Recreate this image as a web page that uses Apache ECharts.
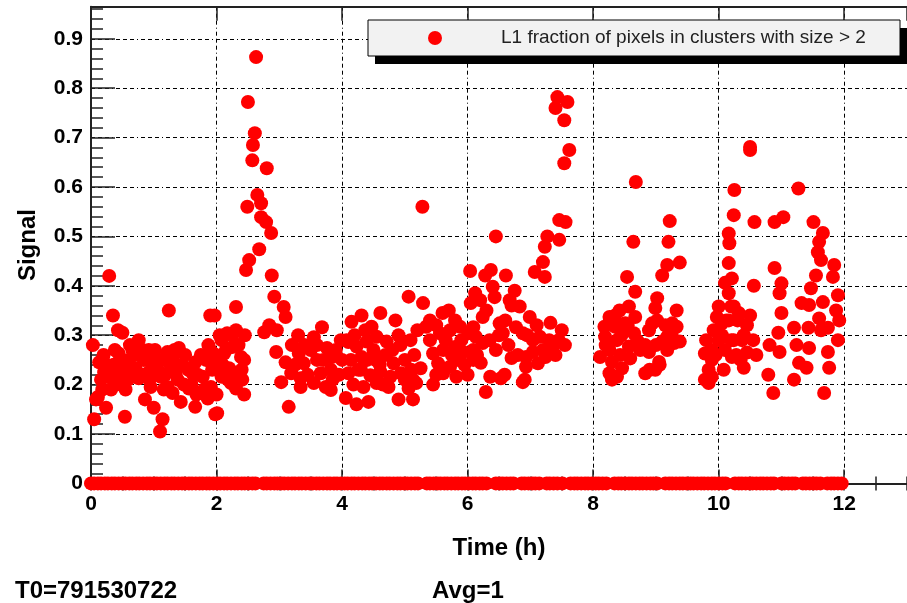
<!DOCTYPE html>
<html>
<head>
<meta charset="utf-8">
<script src="https://cdn.jsdelivr.net/npm/echarts@6/dist/echarts.min.js"></script>
<style>
  html, body { margin: 0; padding: 0; background: #fff; }
  #chart { width: 907px; height: 603px; }
</style>
</head>
<body>
<div id="chart"></div>
<script>
// L1 pixel-cluster signal versus time (hours since T0)
const seriesName = 'L1 fraction of pixels in clusters with size > 2';

// time (h) of each non-zero reading
const times = [
  0.03,0.13,0.16,0.08,0.05,0.24,0.11,0.21,0.29,0.32,0.35,0.29,0.43,0.50,0.44,0.36,0.43,0.27,0.51,0.55,
  0.54,0.76,0.66,0.76,0.60,0.71,0.84,0.92,0.98,0.67,0.76,0.90,0.95,0.86,1.00,0.59,0.98,
  0.20,0.25,0.38,0.45,0.48,0.60,0.62,0.70,0.80,0.82,0.88,0.93,0.18,0.40,
  1.14,1.10,1.24,1.06,1.14,1.22,1.30,1.40,1.46,1.35,1.22,1.30,1.43,1.11,1.48,1.16,
  1.02,1.08,1.18,1.26,1.33,1.38,1.50,1.55,1.60,1.70,1.75,1.80,1.93,1.90,1.68,
  1.66,1.66,1.98,1.90,1.56,1.78,1.83,1.87,1.95,1.74,1.86,1.91,2.01,1.62,
  2.01,1.97,2.31,2.44,2.08,2.17,2.31,2.25,2.12,2.39,2.01,2.20,2.08,2.23,2.41,2.44,2.31,2.00,2.12,2.33,
  2.05,2.15,2.25,2.35,2.40,2.28,2.18,2.10,2.45,
  2.63,2.50,2.61,2.58,2.57,2.80,2.65,2.71,2.49,2.71,2.79,2.87,2.68,2.52,2.47,2.88,
  2.92,3.07,3.10,2.84,2.96,2.76,2.95,3.03,3.15,
  3.68,3.20,3.31,3.10,3.19,3.34,3.39,3.50,3.55,3.60,3.66,3.55,3.76,3.84,3.82,3.74,3.82,3.98,4.00,4.06,4.10,3.34,
  3.25,3.40,3.45,3.60,3.70,3.90,3.95,3.30,3.85,
  4.15,4.31,4.61,4.47,4.85,5.06,5.29,5.28,4.37,
  4.07,4.23,4.39,4.55,4.71,4.93,5.09,4.14,4.31,4.53,4.69,4.82,5.00,4.10,4.26,4.45,4.61,4.77,4.94,5.13,5.25,
  4.18,4.34,4.55,4.74,5.06,5.18,4.23,4.42,4.90,5.13,5.45,
  4.20,4.30,4.50,4.60,4.80,4.90,5.00,5.15,5.20,4.65,4.40,5.10,
  6.00,5.60,5.34,6.04,5.40,5.56,5.72,5.88,6.01,5.45,5.61,5.80,5.93,5.53,5.72,5.85,6.09,5.61,5.82,6.05,6.12,5.40,
  5.50,5.65,5.75,5.90,5.95,5.70,5.50,5.80,
  6.45,7.20,7.07,7.23,6.37,6.28,6.61,6.75,6.40,6.13,7.32,6.29,6.59,6.88,6.70,6.21,
  6.20,6.43,6.24,6.09,6.51,6.67,6.83,6.99,6.56,6.77,6.88,7.04,7.15,7.20,7.04,6.93,7.35,7.24,6.24,6.09,
  6.36,6.53,6.93,7.12,6.91,6.13,7.45,7.50,7.55,
  6.30,6.35,6.45,6.50,6.60,6.65,6.80,6.95,7.10,7.30,7.40,6.70,6.15,
  7.43,7.59,7.40,7.54,7.62,7.54,7.46,7.56,7.27,7.46,7.23,
  8.18,8.11,8.68,9.22,8.64,9.20,9.38,9.18,9.10,8.54,8.67,9.02,9.33,8.99,8.90,9.06,8.30,
  8.26,8.42,8.57,8.67,8.35,8.51,8.65,8.19,8.38,8.57,8.26,8.43,8.59,8.30,8.46,8.26,8.38,
  8.94,9.02,8.89,9.26,9.33,9.18,9.10,9.29,9.38,8.83,8.89,9.18,9.05,8.83,8.99,
  8.20,8.45,8.55,8.70,8.75,9.15,9.25,9.00,8.35,
  10.25,10.24,10.16,10.17,10.16,10.10,10.00,9.84,9.89,
  9.78,9.89,9.84,10.00,10.05,9.97,10.16,10.24,10.10,10.24,10.21,10.08,9.89,9.78,10.16,10.21,
  9.80,9.95,10.05,10.12,10.30,9.92,10.28,
  10.50,10.50,11.27,10.57,10.89,11.03,11.51,11.66,11.60,11.58,11.63,11.84,11.82,10.89,
  11.55,10.56,11.47,10.97,11.00,11.90,11.32,11.44,11.66,10.20,10.32,10.50,11.00,11.87,11.92,11.60,
  11.20,11.43,11.63,11.74,10.95,11.90,10.81,10.97,11.24,11.44,11.74,10.20,10.37,10.45,11.28,11.40,10.40,
  11.76,10.79,11.20,10.87,11.68,10.40,10.45,10.55,10.60,10.35
];

// signal value of each non-zero reading, same order as times
const signal = [
  0.28,0.245,0.21,0.17,0.13,0.153,0.175,0.225,0.215,0.19,0.34,0.42,0.31,0.305,0.263,0.24,0.222,0.222,0.23,0.19,
  0.135,0.29,0.27,0.263,0.25,0.233,0.25,0.27,0.26,0.223,0.213,0.223,0.195,0.17,0.153,0.21,0.233,
  0.26,0.24,0.27,0.24,0.21,0.23,0.28,0.26,0.22,0.27,0.25,0.21,0.19,0.20,
  0.13,0.105,0.35,0.23,0.25,0.266,0.254,0.274,0.24,0.222,0.195,0.183,0.165,0.216,0.20,0.19,
  0.27,0.25,0.22,0.24,0.27,0.21,0.26,0.23,0.20,0.22,0.26,0.19,0.23,0.27,0.18,
  0.245,0.155,0.14,0.34,0.192,0.216,0.25,0.28,0.263,0.183,0.172,0.195,0.233,0.222,
  0.142,0.34,0.357,0.18,0.29,0.304,0.31,0.276,0.263,0.256,0.243,0.233,0.216,0.203,0.21,0.25,0.192,0.18,0.223,0.219,
  0.30,0.27,0.30,0.28,0.23,0.22,0.21,0.24,0.30,
  0.863,0.772,0.709,0.685,0.654,0.638,0.584,0.567,0.56,0.539,0.529,0.507,0.474,0.452,0.432,0.421,
  0.378,0.357,0.337,0.32,0.31,0.306,0.266,0.205,0.155,
  0.316,0.28,0.263,0.245,0.223,0.213,0.243,0.27,0.296,0.25,0.223,0.203,0.274,0.256,0.23,0.195,0.189,0.29,0.25,0.173,0.286,0.195,
  0.24,0.28,0.22,0.28,0.25,0.27,0.22,0.30,0.21,
  0.327,0.34,0.345,0.317,0.33,0.378,0.365,0.56,0.31,
  0.29,0.277,0.287,0.297,0.287,0.28,0.29,0.25,0.256,0.25,0.26,0.243,0.25,0.223,0.23,0.219,0.226,0.216,0.223,0.21,0.233,
  0.20,0.195,0.203,0.195,0.192,0.203,0.16,0.165,0.17,0.17,0.20,
  0.30,0.23,0.27,0.24,0.27,0.30,0.21,0.26,0.31,0.20,0.25,0.23,
  0.22,0.345,0.317,0.43,0.29,0.304,0.31,0.317,0.304,0.263,0.27,0.276,0.266,0.243,0.236,0.25,0.25,0.223,0.216,0.365,0.385,0.33,
  0.32,0.29,0.26,0.29,0.24,0.35,0.22,0.33,
  0.50,0.448,0.428,0.418,0.432,0.421,0.421,0.39,0.398,0.378,0.325,0.185,0.22,0.205,0.254,0.244,
  0.371,0.377,0.337,0.316,0.324,0.371,0.358,0.337,0.304,0.316,0.304,0.29,0.297,0.27,0.266,0.256,0.274,0.256,0.284,0.27,
  0.216,0.213,0.236,0.243,0.21,0.297,0.29,0.31,0.28,
  0.35,0.29,0.27,0.30,0.33,0.28,0.26,0.30,0.32,0.29,0.26,0.36,0.26,
  0.782,0.772,0.76,0.735,0.675,0.648,0.533,0.529,0.50,0.493,0.479,
  0.317,0.256,0.61,0.531,0.489,0.489,0.447,0.442,0.421,0.418,0.388,0.375,0.35,0.355,0.23,0.24,0.21,
  0.337,0.35,0.358,0.337,0.317,0.324,0.304,0.297,0.29,0.277,0.27,0.26,0.253,0.246,0.233,0.223,0.216,
  0.324,0.33,0.31,0.324,0.317,0.297,0.287,0.284,0.287,0.28,0.266,0.27,0.246,0.223,0.23,
  0.28,0.30,0.32,0.29,0.27,0.32,0.30,0.28,0.34,
  0.594,0.543,0.506,0.486,0.446,0.406,0.358,0.203,0.27,
  0.263,0.25,0.23,0.29,0.324,0.337,0.33,0.358,0.27,0.29,0.256,0.23,0.216,0.21,0.385,0.415,
  0.29,0.26,0.30,0.33,0.33,0.31,0.26,
  0.681,0.675,0.597,0.529,0.529,0.539,0.529,0.507,0.489,0.468,0.452,0.442,0.418,0.436,
  0.421,0.40,0.395,0.385,0.405,0.381,0.365,0.361,0.367,0.358,0.345,0.34,0.345,0.35,0.33,0.334,
  0.315,0.315,0.31,0.315,0.305,0.29,0.28,0.266,0.28,0.274,0.266,0.29,0.29,0.265,0.244,0.234,0.234,
  0.234,0.22,0.21,0.183,0.183,0.30,0.32,0.29,0.26,0.25
];

// times (h) of the readings whose signal is exactly zero
const zeroTimes = [
  0.00,0.05,0.11,0.16,0.22,0.27,0.33,0.38,0.44,0.50,0.55,0.61,0.66,0.72,0.77,0.83,0.89,0.94,1.00,1.05,
  1.11,1.17,1.22,1.28,1.33,1.39,1.45,1.50,1.56,1.61,1.67,1.73,1.78,1.84,1.89,1.95,2.01,2.06,2.12,2.17,
  2.23,2.29,2.34,2.40,2.45,2.51,2.57,2.62,2.75,2.80,2.86,2.92,2.97,3.03,3.08,3.14,3.20,3.25,3.31,3.36,
  3.42,3.48,3.53,3.59,3.64,3.70,3.76,3.81,3.87,3.92,3.98,4.04,4.09,4.15,4.20,4.26,4.32,4.37,4.43,4.48,
  4.54,4.60,4.65,4.71,4.76,4.82,4.88,4.93,4.99,5.04,5.10,5.16,5.21,5.35,5.40,5.46,5.52,5.57,5.63,5.68,
  5.74,5.80,5.85,5.91,5.96,6.02,6.08,6.13,6.19,6.24,6.30,6.45,6.51,6.56,6.62,6.68,6.73,6.86,6.91,6.97,
  7.03,7.08,7.14,7.26,7.31,7.37,7.43,7.51,7.64,7.70,7.75,7.81,7.87,7.92,7.98,8.04,8.09,8.15,8.21,8.34,
  8.40,8.45,8.51,8.57,8.62,8.68,8.74,8.79,8.85,8.91,8.96,9.02,9.15,9.21,9.26,9.32,9.38,9.43,9.49,9.55,
  9.60,9.66,9.72,9.77,9.83,9.89,9.94,10.00,10.06,10.11,10.26,10.32,10.37,10.43,10.49,10.54,10.60,10.66,10.71,10.77,
  10.83,10.88,11.00,11.05,11.11,11.17,11.22,11.34,11.39,11.45,11.51,11.56,11.62,11.73,11.79,11.84,11.90,11.96
];

const font = 'Liberation Sans, Arial, Helvetica, sans-serif';
const gridDash = [4, 3, 4, 3, 4, 3, 1, 3];
const markerColor = '#ff0000';

const points = times.map((t, i) => [t, signal[i]]).concat(zeroTimes.map(t => [t, 0]));

const chart = echarts.init(document.getElementById('chart'), null, { renderer: 'canvas' });

const axisLine = { show: true, onZero: false, lineStyle: { color: '#222', width: 2 } };
const tickLine = { color: '#222', width: 1.5 };

// legend box: drop shadow, framed panel, marker and caption
const legendBox = { x: 368, y: 20, w: 532, h: 36 };

chart.setOption({
  animation: false,
  backgroundColor: '#ffffff',
  grid: { left: 91, top: 6.7, width: 820.3, height: 476.7, containLabel: false },
  xAxis: [
    { // main time axis with labels and grid
      type: 'value', position: 'bottom', min: 0, max: 13, interval: 2,
      name: 'Time (h)', nameLocation: 'middle', nameGap: 53,
      nameTextStyle: { fontFamily: font, fontSize: 24, fontWeight: 'bold', color: '#000' },
      axisLine: axisLine,
      axisTick: { show: true, inside: true, length: 14, lineStyle: tickLine },
      axisLabel: { show: true, margin: 10, showMaxLabel: false, fontFamily: font, fontSize: 21, fontWeight: 'bold', color: '#000' },
      splitLine: { show: true, lineStyle: { color: '#000', width: 1, type: gridDash } }
    },
    { // half-hour ticks along the bottom
      type: 'value', position: 'bottom', min: 0, max: 13, interval: 0.5,
      axisLine: { show: false },
      axisTick: { show: true, inside: true, length: 7, lineStyle: tickLine },
      axisLabel: { show: false }, splitLine: { show: false }
    },
    { // frame top with major ticks
      type: 'value', position: 'top', min: 0, max: 13, interval: 2,
      axisLine: axisLine,
      axisTick: { show: true, inside: true, length: 14, lineStyle: tickLine },
      axisLabel: { show: false }, splitLine: { show: false }
    },
    { // frame top with half-hour ticks
      type: 'value', position: 'top', min: 0, max: 13, interval: 0.5,
      axisLine: { show: false },
      axisTick: { show: true, inside: true, length: 7, lineStyle: tickLine },
      axisLabel: { show: false }, splitLine: { show: false }
    }
  ],
  yAxis: [
    { // signal axis with labels and grid
      type: 'value', position: 'left', min: 0, max: 0.965, interval: 0.1,
      name: 'Signal', nameLocation: 'middle', nameGap: 51,
      nameTextStyle: { fontFamily: font, fontSize: 24, fontWeight: 'bold', color: '#000' },
      axisLine: axisLine,
      axisTick: { show: true, inside: true, length: 24, lineStyle: tickLine },
      axisLabel: { show: true, margin: 8, showMaxLabel: false, fontFamily: font, fontSize: 21, fontWeight: 'bold', color: '#000' },
      splitLine: { show: true, lineStyle: { color: '#000', width: 1, type: gridDash } }
    },
    { // fine ticks every 0.02
      type: 'value', position: 'left', min: 0, max: 0.965, interval: 0.02,
      axisLine: { show: false },
      axisTick: { show: true, inside: true, length: 12, lineStyle: tickLine },
      axisLabel: { show: false }, splitLine: { show: false }
    }
  ],
  series: [
    {
      name: seriesName,
      type: 'scatter',
      xAxisIndex: 0, yAxisIndex: 0,
      symbol: 'circle', symbolSize: 14,
      itemStyle: { color: markerColor, opacity: 1 },
      clip: false,
      data: points
    }
  ],
  graphic: [
    { type: 'rect', shape: { x: legendBox.x + 7, y: legendBox.y + 8, width: legendBox.w, height: legendBox.h },
      style: { fill: '#000' }, z: 100 },
    { type: 'rect', shape: { x: legendBox.x, y: legendBox.y, width: legendBox.w, height: legendBox.h },
      style: { fill: '#f2f2f2', stroke: '#000', lineWidth: 1 }, z: 101 },
    { type: 'circle', shape: { cx: 435, cy: legendBox.y + legendBox.h / 2, r: 7 },
      style: { fill: markerColor }, z: 102 },
    { type: 'text', x: 501, y: legendBox.y + legendBox.h / 2, z: 102,
      style: { text: seriesName, font: '19px ' + font, fill: '#222', verticalAlign: 'middle', align: 'left' } },
    { type: 'text', left: 15, top: 579, style: { text: 'T0=791530722', font: 'bold 24px ' + font, fill: '#000' } },
    { type: 'text', left: 432, top: 579, style: { text: 'Avg=1', font: 'bold 24px ' + font, fill: '#000' } }
  ]
});
</script>
</body>
</html>
